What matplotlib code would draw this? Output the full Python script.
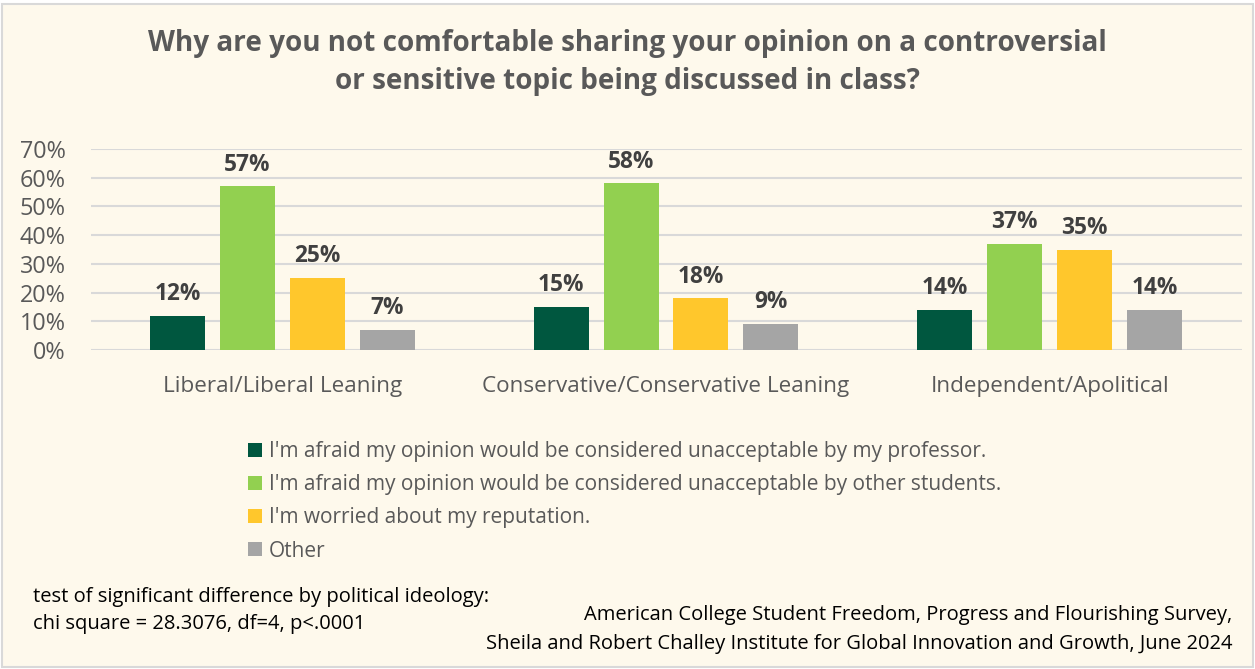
import numpy as np
import matplotlib
matplotlib.use("Agg")
import matplotlib.pyplot as plt
from matplotlib.patches import Rectangle, Patch

# ---- data ----
groups = ["Liberal/Liberal Leaning", "Conservative/Conservative Leaning", "Independent/Apolitical"]
series_names = [
    "I'm afraid my opinion would be considered unacceptable by my professor.",
    "I'm afraid my opinion would be considered unacceptable by other students.",
    "I'm worried about my reputation.",
    "Other",
]
professor = [12, 15, 14]
students = [57, 58, 37]
reputation = [25, 18, 35]
other = [7, 9, 14]
yticks = [0, 10, 20, 30, 40, 50, 60, 70]

colors = ["#00573F", "#92D050", "#FFC72C", "#A5A5A5"]
BG = "#FEF9EC"
TXT = "#595959"

plt.rcParams["font.family"] = ["Open Sans", "DejaVu Sans"]

fig = plt.figure(figsize=(12.55, 6.69), dpi=100)
fig.patch.set_facecolor("white")

# card background with light border
W, H = 1255, 669
fig.patches.append(Rectangle((2 / W, 2 / H), 1251 / W, 663 / H, transform=fig.transFigure,
                             facecolor=BG, edgecolor="#D9D9D9", lw=1.5, zorder=-5))

ax = fig.add_axes([90.5 / W, 1 - 350 / H, 1151 / W, 201 / H])
ax.set_facecolor("none")

x = np.arange(len(groups))
width = 0.143
step = 0.182
all_series = [professor, students, reputation, other]
for i, vals in enumerate(all_series):
    pos = x + (i - 1.5) * step
    bars = ax.bar(pos, vals, width=width, color=colors[i], zorder=3)
    for b, v in zip(bars, vals):
        ax.annotate(f"{v}%", (b.get_x() + b.get_width() / 2, v), xytext=(0, 7),
                    textcoords="offset points", ha="center", va="bottom",
                    fontsize=16.3, fontweight="bold", color="#404040")

ax.set_xlim(-0.5, 2.5)
ax.set_ylim(0, 70)
ax.set_yticks(yticks)
ax.set_yticklabels([f"{t}%" for t in yticks], fontsize=16.8, color=TXT)
ax.set_xticks(x)
ax.set_xticklabels(groups, fontsize=16.2, color=TXT)
ax.tick_params(axis="both", length=0)
ax.tick_params(axis="x", pad=19)
ax.tick_params(axis="y", pad=18)
ax.grid(axis="y", color="#D9D9D9", lw=1.5, zorder=0)
for s in ax.spines.values():
    s.set_visible(False)

# title
fig.text(0.5, 1 - 43 / H, "Why are you not comfortable sharing your opinion on a controversial",
         ha="center", va="center", fontsize=20.1, fontweight="bold", color=TXT)
fig.text(0.5, 1 - 81 / H, "or sensitive topic being discussed in class?",
         ha="center", va="center", fontsize=20.1, fontweight="bold", color=TXT)

# legend
handles = [Patch(facecolor=c, edgecolor="none") for c in colors]
fig.legend(handles, series_names, loc="upper left", bbox_to_anchor=(240 / W, 1 - 433 / H),
           frameon=False, fontsize=15, labelcolor=TXT, handlelength=0.65, handleheight=0.65,
           handletextpad=0.35, labelspacing=0.58, borderaxespad=0)

# footer notes
fig.text(33 / W, 1 - 597 / H, "test of significant difference by political ideology:",
         ha="left", va="center", fontsize=14.5, color="black")
fig.text(33 / W, 1 - 624 / H, "chi square = 28.3076, df=4, p<.0001",
         ha="left", va="center", fontsize=14.5, color="black")
fig.text(1232 / W, 1 - 615 / H, "American College Student Freedom, Progress and Flourishing Survey,",
         ha="right", va="center", fontsize=14.5, color="black")
fig.text(1232 / W, 1 - 644 / H, "Sheila and Robert Challey Institute for Global Innovation and Growth, June 2024",
         ha="right", va="center", fontsize=14.5, color="black")

fig.savefig("out.png", dpi=100, facecolor=fig.get_facecolor())
